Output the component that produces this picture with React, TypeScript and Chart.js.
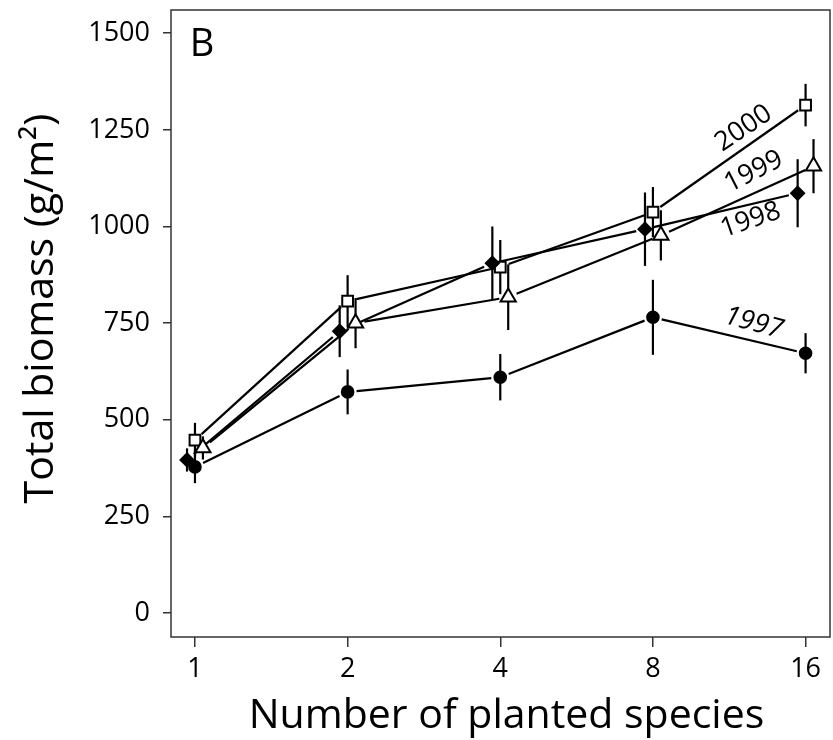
import React, { useEffect, useRef } from 'react';
import { Chart, registerables } from 'chart.js';

Chart.register(...registerables);

// ---- data ----
const categories = ['1', '2', '4', '8', '16'];
const yTicks = [0, 250, 500, 750, 1000, 1250, 1500];

const biomass1997 = [378, 572, 610, 765, 672];
const error1997 = [42, 58, 60, 97, 52];
const biomass1998 = [396, 729, 905, 993, 1086];
const error1998 = [30, 67, 95, 95, 88];
const biomass1999 = [427, 750, 817, 977, 1156];
const error1999 = [30, 65, 85, 65, 70];
const biomass2000 = [447, 807, 895, 1037, 1314];
const error2000 = [45, 67, 70, 65, 55];

const seriesLabels = ['1997', '1998', '1999', '2000'];
const xTitle = 'Number of planted species';
const yTitle = 'Total biomass (g/m²)';
const panelLabel = 'B';

const FONT = '"Open Sans", "DejaVu Sans", sans-serif';

const seriesStyle = [
  { values: biomass1997, errors: error1997, offset: 0, pointStyle: 'circle', radius: 5.8, fill: '#000' },
  { values: biomass1998, errors: error1998, offset: -0.052, pointStyle: 'rectRot', radius: 6.5, fill: '#000' },
  { values: biomass1999, errors: error1999, offset: 0.052, pointStyle: 'triangle', radius: 8.8, fill: '#fff' },
  { values: biomass2000, errors: error2000, offset: 0, pointStyle: 'rect', radius: 7.6, fill: '#fff' },
];

// year labels written along the lines (position in data units, angle in degrees)
const lineLabels = [
  { text: '2000', x: 3.594, y: 1254, angle: -34, italic: false },
  { text: '1999', x: 3.66, y: 1142, angle: -27, italic: false },
  { text: '1998', x: 3.64, y: 1016, angle: -19, italic: false },
  { text: '1997', x: 3.66, y: 750, angle: 15, italic: true },
];

const linesAndErrorsPlugin = {
  id: 'linesAndErrors',
  beforeDatasetsDraw(chart: any) {
    const { ctx, chartArea, scales } = chart;
    const ys = scales.y;
    ctx.save();
    // frame
    ctx.strokeStyle = '#333';
    ctx.lineWidth = 1.5;
    ctx.strokeRect(chartArea.left, chartArea.top, chartArea.right - chartArea.left, chartArea.bottom - chartArea.top);
    ctx.strokeStyle = '#000';
    ctx.lineWidth = 2.2;
    ctx.lineCap = 'butt';
    chart.data.datasets.forEach((ds: any, di: number) => {
      const meta = chart.getDatasetMeta(di);
      const pts = meta.data;
      // connecting lines with small gaps around markers
      for (let i = 0; i < pts.length - 1; i++) {
        const a = pts[i];
        const b = pts[i + 1];
        const dx = b.x - a.x;
        const dy = b.y - a.y;
        const len = Math.hypot(dx, dy);
        const ux = dx / len;
        const uy = dy / len;
        const gap = 9;
        ctx.beginPath();
        ctx.moveTo(a.x + ux * gap, a.y + uy * gap);
        ctx.lineTo(b.x - ux * gap, b.y - uy * gap);
        ctx.stroke();
      }
      // error bars
      ds.errors.forEach((e: number, i: number) => {
        const v = ds.values[i];
        const x = pts[i].x;
        ctx.beginPath();
        ctx.moveTo(x, ys.getPixelForValue(v + e));
        ctx.lineTo(x, ys.getPixelForValue(v - e));
        ctx.stroke();
      });
    });
    ctx.restore();
  },
  afterDatasetsDraw(chart: any) {
    const { ctx, chartArea, scales } = chart;
    ctx.save();
    ctx.fillStyle = '#000';
    ctx.textAlign = 'center';
    ctx.textBaseline = 'middle';
    lineLabels.forEach((l) => {
      const px = scales.x.getPixelForValue(l.x);
      const py = scales.y.getPixelForValue(l.y);
      ctx.save();
      ctx.translate(px, py);
      ctx.rotate((l.angle * Math.PI) / 180);
      ctx.font = `${l.italic ? 'italic ' : ''}27px ${FONT}`;
      ctx.fillText(l.text, 0, 0);
      ctx.restore();
    });
    ctx.font = `38px ${FONT}`;
    ctx.fillText(panelLabel, chartArea.left + 31, chartArea.top + 35);

    // axis titles
    ctx.font = `41px ${FONT}`;
    ctx.textBaseline = 'alphabetic';
    ctx.fillText(xTitle, (chartArea.left + chartArea.right) / 2 + 6, chartArea.bottom + 91);
    ctx.save();
    ctx.translate(chartArea.left - 118, (chartArea.top + chartArea.bottom) / 2 - 15);
    ctx.rotate(-Math.PI / 2);
    ctx.fillText(yTitle, 0, 0);
    ctx.restore();
    ctx.restore();
  },
};

export default function App() {
  const ref = useRef<HTMLCanvasElement | null>(null);

  useEffect(() => {
    if (!ref.current) return;
    const chart = new Chart(ref.current, {
      type: 'scatter',
      data: {
        datasets: seriesStyle.map((s, si) => ({
          label: seriesLabels[si],
          data: s.values.map((v, i) => ({ x: i + s.offset, y: v })),
          values: s.values,
          errors: s.errors,
          showLine: false,
          pointStyle: s.pointStyle,
          pointRadius: s.radius,
          pointHoverRadius: s.radius,
          pointBackgroundColor: s.fill,
          pointBorderColor: '#000',
          pointBorderWidth: 2,
        })) as any,
      },
      options: {
        animation: false,
        responsive: false,
        maintainAspectRatio: false,
        layout: { autoPadding: false, padding: { top: 10, right: 3, left: 0, bottom: 0 } },
        plugins: {
          legend: { display: false },
          tooltip: { enabled: false },
        },
        events: [],
        scales: {
          x: {
            type: 'linear',
            min: -0.157,
            max: 4.16,
            afterBuildTicks: (scale: any) => {
              scale.ticks = categories.map((_, i) => ({ value: i }));
            },
            afterFit: (scale: any) => {
              scale.height = 103;
              scale.paddingLeft = 0;
              scale.paddingRight = 0;
            },
            border: { display: false },
            grid: {
              drawOnChartArea: false,
              drawTicks: true,
              tickLength: 10,
              color: '#333',
              lineWidth: 1.5,
            },
            ticks: {
              autoSkip: false,
              maxRotation: 0,
              padding: 6,
              color: '#000',
              font: { family: FONT, size: 27 },
              callback: (v: any) => categories[Math.round(Number(v))] ?? '',
            },
            title: { display: false },
          },
          y: {
            type: 'linear',
            min: -62,
            max: 1560,
            afterBuildTicks: (scale: any) => {
              scale.ticks = yTicks.map((v) => ({ value: v }));
            },
            afterFit: (scale: any) => {
              scale.width = 171;
              scale.paddingTop = 0;
              scale.paddingBottom = 0;
            },
            border: { display: false },
            grid: {
              drawOnChartArea: false,
              drawTicks: true,
              tickLength: 8,
              color: '#333',
              lineWidth: 1.5,
            },
            ticks: {
              padding: 13,
              color: '#000',
              font: { family: FONT, size: 27 },
              callback: (v: any) => String(v),
            },
            title: { display: false },
          },
        },
      } as any,
      plugins: [linesAndErrorsPlugin],
    });
    return () => chart.destroy();
  }, []);

  return (
    <div style={{ position: 'absolute', left: 0, top: 0, width: 833, height: 740, background: '#fff' }}>
      <canvas ref={ref} width={833} height={740} style={{ display: 'block' }} />
    </div>
  );
}
